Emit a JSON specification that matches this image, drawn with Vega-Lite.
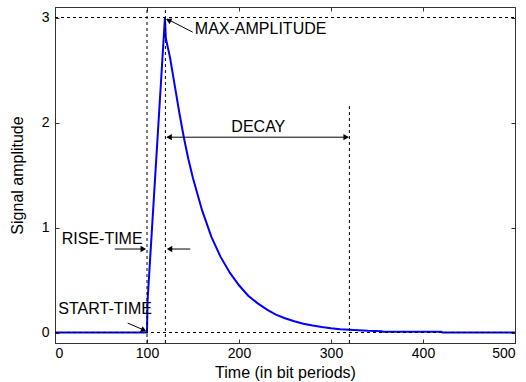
{
  "$schema": "https://vega.github.io/schema/vega-lite/v6.json",
  "width": 460,
  "height": 336,
  "autosize": "none",
  "padding": {"left": 55, "top": 7, "right": 11, "bottom": 39},
  "background": "white",
  "config": {
    "view": {"stroke": "#333333", "strokeWidth": 1},
    "axis": {
      "grid": false,
      "domainColor": "#333333",
      "tickColor": "#333333",
      "labelColor": "black",
      "titleColor": "black",
      "labelFont": "Liberation Sans",
      "titleFont": "Liberation Sans",
      "labelFontSize": 14,
      "titleFontSize": 16,
      "titleFontWeight": "normal",
      "tickSize": -4,
      "labelPadding": 7
    }
  },
  "datasets": {
    "signal": [
      {"t": 0, "a": 0}, {"t": 100, "a": 0}, {"t": 100.6, "a": 0.3}, {"t": 119.5, "a": 3},
      {"t": 120.5, "a": 2.8}, {"t": 125, "a": 2.62}, {"t": 130, "a": 2.36}, {"t": 135, "a": 2.1},
      {"t": 140, "a": 1.86}, {"t": 145, "a": 1.65}, {"t": 150, "a": 1.47}, {"t": 160, "a": 1.16},
      {"t": 170, "a": 0.91}, {"t": 180, "a": 0.72}, {"t": 190, "a": 0.57}, {"t": 200, "a": 0.45},
      {"t": 210, "a": 0.35}, {"t": 220, "a": 0.28}, {"t": 230, "a": 0.22}, {"t": 240, "a": 0.17},
      {"t": 250, "a": 0.136}, {"t": 260, "a": 0.107}, {"t": 270, "a": 0.084}, {"t": 280, "a": 0.066},
      {"t": 290, "a": 0.052}, {"t": 300, "a": 0.041}, {"t": 310, "a": 0.032}, {"t": 320, "a": 0.026},
      {"t": 340, "a": 0.016}, {"t": 355, "a": 0.012}, {"t": 356, "a": 0.008}, {"t": 420, "a": 0.006},
      {"t": 421, "a": 0}, {"t": 500, "a": 0}
    ],
    "guides": [
      {"x1": 0, "x2": 500, "y1": 3, "y2": 3},
      {"x1": 0, "x2": 500, "y1": 0, "y2": 0},
      {"x1": 100, "x2": 100, "y1": -0.1, "y2": 3.1},
      {"x1": 120, "x2": 120, "y1": -0.1, "y2": 3.1},
      {"x1": 320, "x2": 320, "y1": -0.1, "y2": 2.16}
    ],
    "shafts": [
      {"x1": 149.7, "y1": 2.86, "x2": 122, "y2": 2.985},
      {"x1": 122, "y1": 1.86, "x2": 318.5, "y2": 1.86},
      {"x1": 65, "y1": 0.795, "x2": 97, "y2": 0.795},
      {"x1": 147, "y1": 0.795, "x2": 123, "y2": 0.795},
      {"x1": 79, "y1": 0.09, "x2": 97.5, "y2": 0.02}
    ],
    "heads": [
      {"x": 123.4, "y": 2.975, "dir": 296.5},
      {"x": 124, "y": 1.86, "dir": 270},
      {"x": 316.5, "y": 1.86, "dir": 90},
      {"x": 96, "y": 0.795, "dir": 90},
      {"x": 124.5, "y": 0.795, "dir": 270},
      {"x": 96.5, "y": 0.022, "dir": 114}
    ],
    "leftLabels": [
      {"x": 152, "y": 2.89, "text": "MAX-AMPLITUDE"},
      {"x": 7.3, "y": 0.89, "text": "RISE-TIME"},
      {"x": 3.6, "y": 0.22, "text": "START-TIME"}
    ],
    "centerLabels": [
      {"x": 221, "y": 1.96, "text": "DECAY"}
    ]
  },
  "resolve": {"axis": {"x": "independent", "y": "independent"}},
  "layer": [
    {
      "data": {"name": "signal"},
      "mark": {"type": "line", "color": "#0000ff", "strokeWidth": 2},
      "encoding": {
        "x": {"field": "t", "type": "quantitative", "scale": {"domain": [0, 500], "nice": false},
              "axis": {"orient": "bottom", "title": "Time (in bit periods)", "values": [0, 100, 200, 300, 400, 500], "titlePadding": 4}},
        "y": {"field": "a", "type": "quantitative", "scale": {"domain": [-0.1, 3.1], "nice": false, "zero": false},
              "axis": {"orient": "left", "title": "Signal amplitude", "values": [0, 1, 2, 3], "titlePadding": 16, "labelPadding": 10}}
      }
    },
    {
      "data": {"name": "guides"},
      "mark": {"type": "rule", "color": "black", "strokeWidth": 1, "strokeDash": [3, 3]},
      "encoding": {
        "x": {"field": "x1", "type": "quantitative", "axis": null},
        "x2": {"field": "x2"},
        "y": {"field": "y1", "type": "quantitative", "axis": null},
        "y2": {"field": "y2"}
      }
    },
    {
      "data": {"name": "shafts"},
      "mark": {"type": "rule", "color": "black", "strokeWidth": 1},
      "encoding": {
        "x": {"field": "x1", "type": "quantitative", "axis": null},
        "x2": {"field": "x2"},
        "y": {"field": "y1", "type": "quantitative", "axis": null},
        "y2": {"field": "y2"}
      }
    },
    {
      "data": {"name": "heads"},
      "mark": {"type": "point", "shape": "triangle-up", "filled": true, "color": "black", "size": 40, "opacity": 1},
      "encoding": {
        "x": {"field": "x", "type": "quantitative", "axis": {"orient": "top", "labels": false, "title": null, "values": [0, 100, 200, 300, 400, 500], "domain": false}},
        "y": {"field": "y", "type": "quantitative", "axis": {"orient": "right", "labels": false, "title": null, "values": [0, 1, 2, 3], "domain": false}},
        "angle": {"field": "dir", "type": "quantitative", "scale": null}
      }
    },
    {
      "data": {"name": "leftLabels"},
      "mark": {"type": "text", "font": "Liberation Sans", "fontSize": 16, "color": "black", "baseline": "middle", "align": "left"},
      "encoding": {
        "x": {"field": "x", "type": "quantitative", "axis": null},
        "y": {"field": "y", "type": "quantitative", "axis": null},
        "text": {"field": "text"}
      }
    },
    {
      "data": {"name": "centerLabels"},
      "mark": {"type": "text", "font": "Liberation Sans", "fontSize": 16, "color": "black", "baseline": "middle", "align": "center"},
      "encoding": {
        "x": {"field": "x", "type": "quantitative", "axis": null},
        "y": {"field": "y", "type": "quantitative", "axis": null},
        "text": {"field": "text"}
      }
    }
  ]
}
